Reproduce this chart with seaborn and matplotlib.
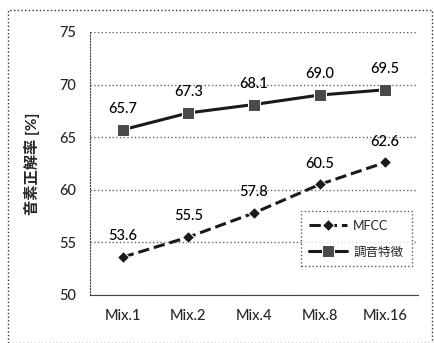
import pandas as pd
import matplotlib
matplotlib.use('Agg')
import matplotlib.pyplot as plt
import seaborn as sns
from matplotlib.patches import Rectangle

# data
mixtures = ['Mix.1', 'Mix.2', 'Mix.4', 'Mix.8', 'Mix.16']
mfcc = [53.6, 55.5, 57.8, 60.5, 62.6]
articulatory = [65.7, 67.3, 68.1, 69.0, 69.5]

sns.set_style('white')
plt.rcParams['font.family'] = ['Lato', 'Noto Sans CJK JP', 'DejaVu Sans']

df = pd.DataFrame({'mix': mixtures * 2,
                   'acc': mfcc + articulatory,
                   'feat': ['MFCC'] * 5 + ['調音特徴'] * 5})

fig = plt.figure(figsize=(4.35, 3.43), dpi=100)
ax = fig.add_axes([0.207, 0.14, 0.754, 0.767])

sns.lineplot(data=df[df.feat == 'MFCC'], x='mix', y='acc', ax=ax, sort=False,
             color='#1a1a1a', linestyle='--', linewidth=2.2, marker='D',
             markersize=6.5, label='MFCC')
sns.lineplot(data=df[df.feat == '調音特徴'], x='mix', y='acc', ax=ax, sort=False,
             color='#1a1a1a', linestyle='-', linewidth=2.2, marker='s',
             markersize=9, markerfacecolor='#4a4a4a', label='調音特徴')

# value labels
for i, (a, b) in enumerate(zip(mfcc, articulatory)):
    ax.text(i, a + 1.3, f'{a:.1f}', ha='center', va='bottom', fontsize=10.5,
            fontweight='medium', color='black')
    ax.text(i, b + 1.3, f'{b:.1f}', ha='center', va='bottom', fontsize=10.5,
            fontweight='medium', color='black')

ax.set_ylim(50, 75)
ax.set_xlim(-0.5, 4.5)
ax.set_yticks(range(50, 76, 5))
ax.set_xticks([-0.5, 0.5, 1.5, 2.5, 3.5, 4.5], minor=True)
ax.yaxis.grid(True, linestyle=':', color='#666666', linewidth=1)
ax.set_axisbelow(True)
for s in ['top', 'right']:
    ax.spines[s].set_visible(False)
ax.spines['left'].set_linestyle(':')
ax.spines['left'].set_color('#444444')
ax.spines['bottom'].set_color('#444444')
ax.tick_params(axis='x', which='major', labelsize=10.5, length=0, pad=10)
ax.tick_params(axis='x', which='minor', length=3, color='#444444')
ax.tick_params(axis='y', labelsize=10.5, length=4, color='#444444', pad=6)
for lab in ax.get_xticklabels() + ax.get_yticklabels():
    lab.set_fontweight('medium')
ax.set_xlabel('')
ax.set_ylabel('音素正解率 [%]', fontsize=11, fontweight='bold', labelpad=14)

leg = ax.legend(loc='lower right', bbox_to_anchor=(1.0, 0.085), fontsize=9,
                frameon=True, fancybox=False, edgecolor='#333333',
                handlelength=3.0, handletextpad=0.5, borderpad=0.7,
                labelspacing=1.1)
leg.get_frame().set_linestyle(':')

# dotted outer frame of the figure
fig.patches.append(Rectangle((0.018, 0.0), 0.975, 0.972, transform=fig.transFigure,
                             fill=False, linestyle=':', edgecolor='#333333', linewidth=1))

fig.savefig('out.png', dpi=100)
